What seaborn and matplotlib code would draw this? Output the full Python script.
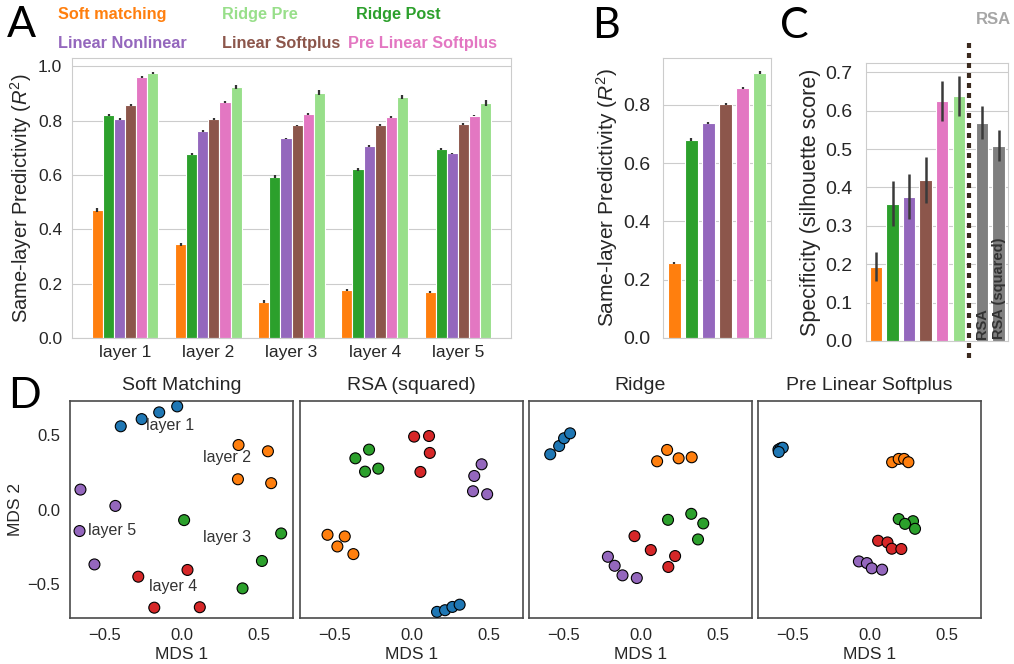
import numpy as np
import pandas as pd
import matplotlib
matplotlib.use("Agg")
import matplotlib.pyplot as plt
import seaborn as sns

# ---------------- data ----------------
methods = ["Soft matching", "Ridge Post", "Linear Nonlinear", "Linear Softplus",
           "Pre Linear Softplus", "Ridge Pre"]
method_colors = ["#ff7f0e", "#2ca02c", "#9467bd", "#8c564b", "#e377c2", "#98df8a"]
layers = ["layer 1", "layer 2", "layer 3", "layer 4", "layer 5"]

# Panel A: same-layer predictivity per layer
soft_matching = [0.471, 0.344, 0.134, 0.177, 0.168]
ridge_post = [0.821, 0.676, 0.594, 0.620, 0.696]
linear_nonlinear = [0.807, 0.761, 0.734, 0.706, 0.679]
linear_softplus = [0.858, 0.806, 0.782, 0.783, 0.787]
pre_linear_softplus = [0.961, 0.867, 0.825, 0.814, 0.818]
ridge_pre = [0.975, 0.924, 0.903, 0.886, 0.864]

soft_matching_err = [0.008, 0.005, 0.004, 0.004, 0.004]
ridge_post_err = [0.004, 0.003, 0.004, 0.004, 0.003]
linear_nonlinear_err = [0.004, 0.004, 0.003, 0.003, 0.003]
linear_softplus_err = [0.003, 0.003, 0.003, 0.003, 0.003]
pre_linear_softplus_err = [0.003, 0.003, 0.003, 0.003, 0.003]
ridge_pre_err = [0.003, 0.007, 0.008, 0.008, 0.010]

# Panel B: average across layers
mean_predictivity = [0.258, 0.681, 0.737, 0.802, 0.857, 0.911]
mean_predictivity_err = [0.004, 0.004, 0.003, 0.003, 0.003, 0.004]

# Panel C: specificity (silhouette score)
spec_labels = methods + ["RSA", "RSA (squared)"]
spec_colors = method_colors + ["#7f7f7f", "#7f7f7f"]
spec_values = [0.192, 0.357, 0.374, 0.418, 0.624, 0.637, 0.567, 0.508]
spec_low = [0.155, 0.300, 0.318, 0.360, 0.574, 0.587, 0.527, 0.470]
spec_high = [0.233, 0.417, 0.434, 0.480, 0.677, 0.690, 0.611, 0.550]

# Panel D: MDS embeddings (4 points per layer)
mds_layer = ["layer 1"] * 4 + ["layer 2"] * 4 + ["layer 3"] * 4 + ["layer 4"] * 4 + ["layer 5"] * 4
layer_colors = ["#1f77b4", "#ff7f0e", "#2ca02c", "#d62728", "#9467bd"]
mds_titles = ["Soft Matching", "RSA (squared)", "Ridge", "Pre Linear Softplus"]

soft_mds_x = [-0.395, -0.259, -0.145, -0.028, 0.371, 0.562, 0.367, 0.583,
              0.017, 0.648, 0.523, 0.397, -0.281, 0.039, -0.177, 0.119,
              -0.657, -0.430, -0.663, -0.566]
soft_mds_y = [0.556, 0.604, 0.649, 0.689, 0.431, 0.389, 0.202, 0.176,
              -0.071, -0.160, -0.344, -0.527, -0.449, -0.404, -0.656, -0.653,
              0.133, 0.024, -0.144, -0.367]
rsa_mds_x = [0.166, 0.218, 0.266, 0.313, -0.546, -0.434, -0.482, -0.378,
             -0.365, -0.276, -0.302, -0.216, 0.017, 0.114, 0.119, 0.058,
             0.456, 0.408, 0.400, 0.492]
rsa_mds_y = [-0.684, -0.673, -0.651, -0.636, -0.169, -0.180, -0.247, -0.298,
             0.342, 0.400, 0.253, 0.273, 0.487, 0.491, 0.378, 0.251,
             0.302, 0.224, 0.122, 0.102]
ridge_mds_x = [-0.587, -0.529, -0.497, -0.458, 0.173, 0.108, 0.248, 0.333,
               0.330, 0.179, 0.408, 0.374, -0.039, 0.067, 0.225, 0.181,
               -0.212, -0.168, -0.117, -0.024]
ridge_mds_y = [0.369, 0.424, 0.476, 0.509, 0.398, 0.322, 0.342, 0.349,
               -0.029, -0.069, -0.093, -0.200, -0.178, -0.271, -0.311, -0.384,
               -0.316, -0.376, -0.440, -0.458]
pls_mds_x = [-0.592, -0.577, -0.564, -0.590, 0.147, 0.190, 0.225, 0.253,
             0.190, 0.283, 0.231, 0.296, 0.056, 0.117, 0.145, 0.207,
             -0.069, -0.017, 0.015, 0.082]
pls_mds_y = [0.400, 0.409, 0.413, 0.384, 0.316, 0.338, 0.338, 0.316,
             -0.064, -0.078, -0.096, -0.129, -0.209, -0.220, -0.262, -0.264,
             -0.347, -0.358, -0.393, -0.402]

# ---------------- style ----------------
sns.set_style("whitegrid")
plt.rcParams["font.family"] = ["Liberation Sans", "DejaVu Sans"]
plt.rcParams["mathtext.fontset"] = "custom"
plt.rcParams["mathtext.rm"] = "Liberation Sans"
plt.rcParams["mathtext.it"] = "Liberation Sans:italic"
TXT = "#262626"

W, H = 1014, 664
fig = plt.figure(figsize=(W / 100, H / 100), dpi=100)


def box(l, t, r, b):
    return [l / W, 1 - b / H, (r - l) / W, (b - t) / H]


# ---------------- Panel A ----------------
axA = fig.add_axes(box(72, 58, 511, 338))
dfA = pd.DataFrame({
    "layer": layers * 6,
    "r2": soft_matching + ridge_post + linear_nonlinear + linear_softplus
          + pre_linear_softplus + ridge_pre,
    "method": sum([[m] * 5 for m in methods], []),
})
errA = [soft_matching_err, ridge_post_err, linear_nonlinear_err, linear_softplus_err,
        pre_linear_softplus_err, ridge_pre_err]
sns.barplot(data=dfA, x="layer", y="r2", hue="method", hue_order=methods,
            palette=method_colors, saturation=1, errorbar=None, width=0.8, legend=False,
            ax=axA, linewidth=0.8, edgecolor="white")
for cont, errs in zip(axA.containers, errA):
    for bar, e in zip(cont, errs):
        axA.errorbar(bar.get_x() + bar.get_width() / 2, bar.get_height(), yerr=e,
                     fmt="none", ecolor="#333333", elinewidth=1.6, capsize=0)
axA.set_ylim(0, 1.03)
axA.set_yticks(np.arange(0, 1.01, 0.2))
axA.set_xlabel("")
axA.set_ylabel("Same-layer Predictivity ($R^2$)", fontsize=14.5, color=TXT, labelpad=3)
axA.tick_params(axis="y", labelsize=12.5, colors=TXT, length=0, pad=7)
axA.tick_params(axis="x", labelsize=12.5, colors=TXT, length=0, pad=5)
axA.xaxis.grid(False)

# ---------------- Panel B ----------------
axB = fig.add_axes(box(663, 58, 771, 338))
dfB = pd.DataFrame({"method": methods, "r2": mean_predictivity})
sns.barplot(data=dfB, x="method", y="r2", hue="method", hue_order=methods, order=methods,
            palette=method_colors, saturation=1, errorbar=None, width=0.75, legend=False,
            ax=axB, linewidth=0.8, edgecolor="white")
for cont, e in zip(axB.containers, mean_predictivity_err):
    for bar in cont:
        axB.errorbar(bar.get_x() + bar.get_width() / 2, bar.get_height(), yerr=e,
                     fmt="none", ecolor="#333333", elinewidth=1.6, capsize=0)
axB.set_ylim(0, 0.961)
axB.set_yticks(np.arange(0, 0.81, 0.2))
axB.set_xticks([])
axB.set_xlabel("")
axB.set_ylabel("Same-layer Predictivity ($R^2$)", fontsize=15, color=TXT, labelpad=2)
axB.tick_params(axis="both", labelsize=14, colors=TXT, length=0, pad=9)
axB.xaxis.grid(False)

# ---------------- Panel C ----------------
axC = fig.add_axes(box(866, 63, 1008, 341))
spec_x = np.arange(len(spec_values)) + np.where(np.arange(len(spec_values)) >= 6, 0.4, 0.0)
dfC = pd.DataFrame({"x": spec_x, "spec": spec_values, "label": spec_labels})
sns.barplot(data=dfC, x="x", y="spec", hue="label", hue_order=spec_labels,
            palette=dict(zip(spec_labels, spec_colors)), saturation=1, native_scale=True,
            errorbar=None, width=0.75, legend=False, ax=axC,
            linewidth=0.8, edgecolor="white")
for xi, m, lo, hi in zip(spec_x, spec_values, spec_low, spec_high):
    axC.errorbar(xi, m, yerr=[[m - lo], [hi - m]], fmt="none", ecolor="#3a3a3a",
                 elinewidth=1.8, capsize=0)
axC.set_xlim(-0.6, 7.97)
axC.set_ylim(0, 0.724)
axC.set_yticks(np.arange(0, 0.71, 0.1))
axC.set_xticks([])
axC.set_xlabel("")
axC.xaxis.grid(False)
axC.set_ylabel("Specificity (silhouette score)", fontsize=15.5, color=TXT, labelpad=3)
axC.tick_params(axis="both", labelsize=14, colors=TXT, length=0, pad=10)
axC.axvline((spec_x[5] + spec_x[6]) / 2 - 0.1, ymin=-0.061, ymax=1.072, clip_on=False,
            ls=(0, (1.2, 1.2)), lw=3, color="#3b2a1e", zorder=5)
for xi, lab in zip(spec_x[6:], spec_labels[6:]):
    axC.text(xi, 0.004, lab, rotation=90, ha="center", va="bottom", fontsize=10.5,
             fontweight="bold", color="#333333")
fig.text(993 / W, 1 - 20 / H, "RSA", ha="center", va="center", fontsize=12,
         fontweight="bold", color="#a6a6a6")

# ---------------- legend text ----------------
legend_pos = {
    "Soft matching": (58, 19), "Ridge Pre": (222, 19), "Ridge Post": (356, 19),
    "Linear Nonlinear": (58, 48), "Linear Softplus": (222, 48), "Pre Linear Softplus": (348, 48),
}
for m, c in zip(methods, method_colors):
    px, py = legend_pos[m]
    fig.text(px / W, 1 - py / H, m, color=c, fontsize=11.7, fontweight="bold",
             ha="left", va="baseline")

# ---------------- Panel D ----------------
mds_x = [soft_mds_x, rsa_mds_x, ridge_mds_x, pls_mds_x]
mds_y = [soft_mds_y, rsa_mds_y, ridge_mds_y, pls_mds_y]
lefts = [70, 300, 529, 758]
sns.set_style("white")
plt.rcParams["font.family"] = ["Liberation Sans", "DejaVu Sans"]
for k, (title, xs, ys, l) in enumerate(zip(mds_titles, mds_x, mds_y, lefts)):
    ax = fig.add_axes(box(l, 401, l + 223, 618))
    dfD = pd.DataFrame({"x": xs, "y": ys, "layer": mds_layer})
    sns.scatterplot(data=dfD, x="x", y="y", hue="layer", hue_order=layers,
                    palette=layer_colors, s=62, edgecolor="black", linewidth=0.8,
                    legend=False, ax=ax, zorder=3)
    ax.set_xlim(-0.725, 0.725)
    ax.set_ylim(-0.725, 0.725)
    ax.set_xticks([-0.5, 0.0, 0.5])
    ax.set_yticks([-0.5, 0.0, 0.5])
    ax.set_title(title, fontsize=14, color=TXT, pad=8)
    ax.set_xlabel("MDS 1", fontsize=12.5, color=TXT, labelpad=3)
    ax.tick_params(axis="x", labelsize=12, colors=TXT, length=0, pad=7)
    ax.tick_params(axis="y", labelsize=12, colors=TXT, length=0, pad=7)
    for sp in ax.spines.values():
        sp.set_color("#4a4a4a")
        sp.set_linewidth(1.2)
    if k == 0:
        ax.set_ylabel("MDS 2", fontsize=12.5, color=TXT, labelpad=3)
        for lx, ly, lt in [(-0.076, 0.56, "layer 1"), (0.296, 0.349, "layer 2"),
                           (0.298, -0.184, "layer 3"), (-0.054, -0.513, "layer 4"),
                           (-0.451, -0.14, "layer 5")]:
            ax.text(lx, ly, lt, ha="center", va="center", fontsize=11.5, color="#333333")
    else:
        ax.set_ylabel("")
        ax.set_yticklabels([])

# ---------------- panel letters ----------------
for letter, (px, py) in {"A": (7, 37), "B": (592, 38), "C": (780, 38), "D": (8, 408)}.items():
    fig.text(px / W, 1 - py / H, letter, fontsize=31, family=["Lato", "DejaVu Sans"],
             fontweight="normal", ha="left", va="baseline", color="black")

fig.savefig("out.png", dpi=100)
